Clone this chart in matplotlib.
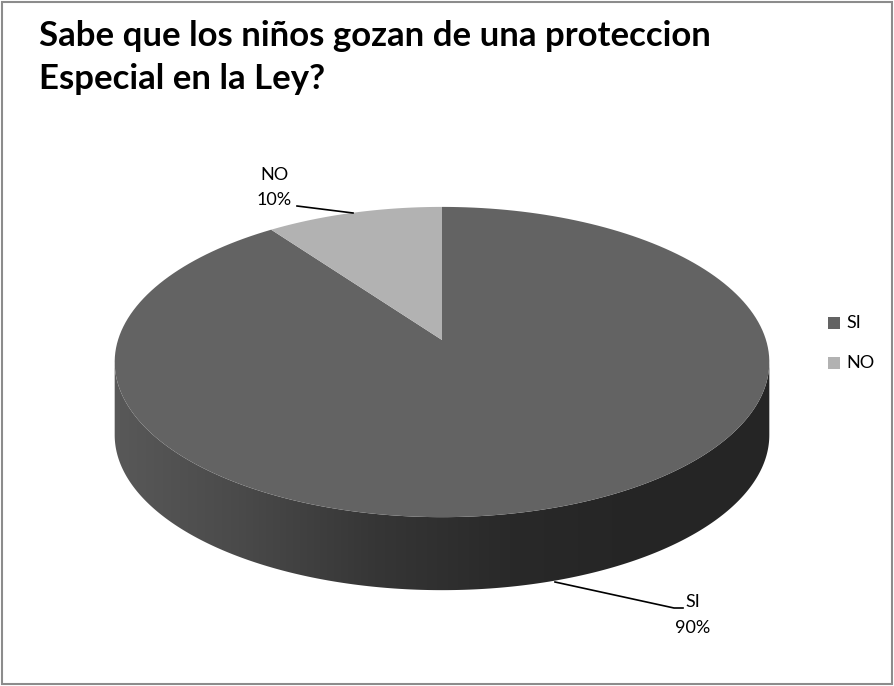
import numpy as np
import matplotlib
matplotlib.use("Agg")
import matplotlib.pyplot as plt
from matplotlib.patches import Polygon, Rectangle
from matplotlib.colors import LinearSegmentedColormap

plt.rcParams['font.family'] = ['Lato', 'DejaVu Sans']

title_lines = ["Sabe que los niños gozan de una proteccion", "Especial en la Ley?"]
categories = ["SI", "NO"]
values = [90, 10]
top_colors = ["#636363", "#b2b2b2"]

W, H = 894, 686
fig = plt.figure(figsize=(W / 100, H / 100), dpi=100)
ax = fig.add_axes([0, 0, 1, 1])
ax.set_xlim(0, W)
ax.set_ylim(H, 0)
ax.axis("off")

# pie geometry in pixels, with a little perspective (front half looks bigger)
cx, cy = 442, 340
A, B = 324, 152
k = 0.142
depth = 73


def rim(phi, drop=0.0):
    u, v = np.cos(phi), np.sin(phi)
    s = 1.0 / (1.0 - k * v)
    return np.column_stack([cx + A * u * s, cy + B * v * s + drop])


# side wall: front arc between the left and right extremes
a0 = np.arcsin(k)
front = np.linspace(a0, np.pi - a0, 300)
side_pts = np.vstack([rim(front), rim(front[::-1], depth)])
side = Polygon(side_pts, closed=True, facecolor="none", edgecolor="none")
ax.add_patch(side)
shade = LinearSegmentedColormap.from_list(
    "shade", ["#5a5a5a", "#4a4a4a", "#363636", "#292929", "#252525", "#262626"])
grad = np.linspace(0, 1, 256).reshape(1, -1)
img = ax.imshow(grad, cmap=shade, aspect="auto",
                extent=[cx - A * 1.05, cx + A * 1.05, cy + B * 1.3 + depth, cy - B],
                interpolation="bilinear", zorder=1)
img.set_clip_path(side)

# top face wedges, clockwise from twelve o'clock
total = float(sum(values))
start = -np.pi / 2
for val, col in zip(values, top_colors):
    sweep = 2 * np.pi * val / total
    phis = np.linspace(start, start + sweep, 200)
    pts = np.vstack([[cx, cy], rim(phis)])
    ax.add_patch(Polygon(pts, closed=True, facecolor=col, edgecolor="none",
                         zorder=2))
    start += sweep

# data labels with leader lines
lab_kw = dict(fontsize=13, color="black", ha="center", va="center")
ax.plot([555, 674, 683], [582, 608, 608], color="black", lw=1.2, zorder=3)
ax.text(693, 602, categories[0], **lab_kw)
ax.text(693, 628, f"{values[0]:.0f}%", **lab_kw)

ax.plot([297, 353], [206, 213], color="black", lw=1.2, zorder=3)
ax.text(274, 175, categories[1], **lab_kw)
ax.text(274, 200, f"{values[1]:.0f}%", **lab_kw)

# legend
for i, (cat, col) in enumerate(zip(categories, top_colors)):
    y = 323 + i * 40
    ax.add_patch(Rectangle((828, y - 6), 12, 12, facecolor=col, edgecolor="none"))
    ax.text(846, y, cat, fontsize=13, ha="left", va="center")

# title, one text per line
for line, base in zip(title_lines, [46, 89]):
    ax.text(39, base, line, fontsize=25, fontweight="bold", ha="left",
            va="baseline")

# chart frame
ax.add_patch(Rectangle((1.5, 1.5), W - 4, H - 4, facecolor="none",
                       edgecolor="#8c8c8c", lw=1.5, zorder=5))

fig.savefig("out.png", dpi=100)
